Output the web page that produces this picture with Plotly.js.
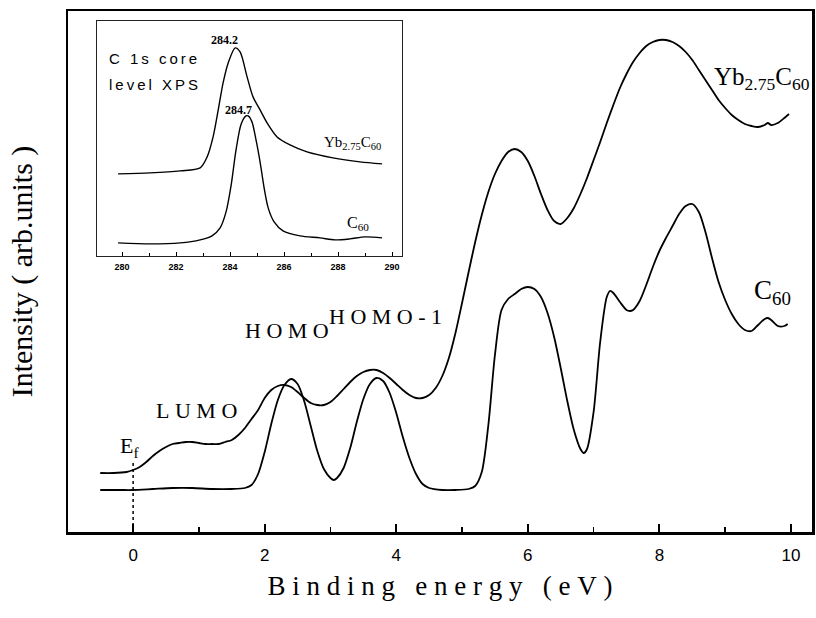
<!DOCTYPE html>
<html><head><meta charset="utf-8">
<script src="https://cdn.plot.ly/plotly-3.0.1.min.js"></script>
<style>html,body{margin:0;padding:0;background:#fff}#chart{width:816px;height:618px}</style>
</head><body><div id="chart"></div>
<script>
// ---- main panel: valence-band photoemission (binding energy, eV) ----
const energyYb = [-0.5,-0.3,-0.1,0,0.1,0.2,0.3,0.4,0.5,0.6,0.7,0.8,0.9,1.0,1.1,1.2,1.3,1.4,1.5,1.6,1.7,1.8,1.9,2.0,2.1,2.2,2.3,2.4,2.5,2.6,2.7,2.8,2.9,3.0,3.1,3.2,3.3,3.4,3.5,3.6,3.7,3.8,3.9,4.0,4.1,4.2,4.3,4.4,4.5,4.6,4.7,4.8,4.9,5.0,5.1,5.2,5.3,5.4,5.5,5.6,5.7,5.8,5.9,6.0,6.1,6.2,6.3,6.4,6.5,6.6,6.7,6.8,6.9,7.0,7.1,7.2,7.3,7.4,7.5,7.6,7.7,7.8,7.9,8.0,8.1,8.2,8.3,8.4,8.5,8.6,8.7,8.8,8.9,9.0,9.1,9.2,9.3,9.4,9.5,9.6,9.65,9.7,9.8,9.9,9.97];
const intensityYb = [59,59,60,62,65,70,76,81,85,88,89,90,90,89,88,88,88,90,92,97,104,113,122,134,142,146,147,145,140,134,129,127,127,130,136,143,150,156,160,162,162,159,154,148,142,137,134,134,137,144,156,174,199,229,260,290,317,340,358,371,380,383,380,371,356,338,322,311,308,314,324,338,354,372,390,409,427,444,458,470,479,486,490,492,492,490,486,480,472,462,452,442,432,424,417,412,408,406,405,407,409,407,409,414,418];

const energyC60 = [-0.5,-0.2,0,0.3,0.6,0.9,1.2,1.5,1.7,1.8,1.9,2.0,2.1,2.2,2.3,2.4,2.5,2.6,2.7,2.8,2.9,3.0,3.05,3.1,3.2,3.3,3.4,3.5,3.6,3.7,3.8,3.9,4.0,4.1,4.2,4.3,4.4,4.5,4.7,4.9,5.1,5.2,5.3,5.4,5.5,5.6,5.7,5.8,5.9,6.0,6.1,6.2,6.3,6.4,6.5,6.6,6.7,6.8,6.85,6.9,7.0,7.1,7.2,7.25,7.3,7.4,7.5,7.55,7.6,7.7,7.8,7.9,8.0,8.1,8.2,8.3,8.4,8.5,8.6,8.7,8.8,8.9,9.0,9.1,9.2,9.3,9.4,9.5,9.6,9.65,9.7,9.8,9.9,9.95];
const intensityC60 = [42,42,42,43,44,44,43,43,44,47,58,80,108,132,147,153,148,131,106,81,63,54,52,54,64,84,110,133,148,154,151,139,119,95,74,58,48,44,42,42,43,46,60,107,177,222,233,238,243,245,243,235,219,195,164,131,102,83,79,83,120,190,235,241,239,230,222,221,222,231,247,265,281,294,306,318,326,328,320,300,274,250,232,218,208,202,201,207,213,214,212,206,206,208];

const mainTicks = [0,2,4,6,8,10];
const mainMinorTicks = [-1,1,3,5,7,9];
const fermiLevel = 0;
const fermiLineTop = 70;

// ---- inset: C 1s core level XPS ----
const xpsEnergyYb = [279.85,281.04,282.15,282.89,283.15,283.37,283.56,283.74,283.93,284.19,284.37,284.63,284.85,285.11,285.37,285.74,286.22,286.85,287.81,288.81,289.63];
const xpsYb = [82,83,85,88,99,119,146,173,193,208,204,179,159,146,133,119,111,104,98,94,92];
const xpsEnergyC60 = [279.85,281.04,282.15,282.89,283.33,283.63,283.85,284.04,284.22,284.41,284.59,284.67,284.81,284.96,285.11,285.26,285.41,285.63,285.96,286.59,287.33,287.89,288.44,289.0,289.63];
const xpsC60 = [13,12,13,16,20,28,44,71,106,132,140,140,134,116,94,68,48,34,25,20,18,16,17,19,18];
const insetTicks = [280,282,284,286,288,290];
const insetMinorTicks = [281,283,285,287,289];
const peakYb = 284.2, peakC60 = 284.7;

const S = '\u2005', T = '\u2009';
const spaced = (s, sep) => s.split('').join(sep);

const lineStyle = {color: '#000', width: 1.8, shape: 'spline', smoothing: 0.8};
const insetLine = {color: '#000', width: 1.4, shape: 'spline', smoothing: 0.8};

const traces = [
  {x: energyYb, y: intensityYb, type: 'scatter', mode: 'lines', line: lineStyle, name: 'Yb2.75C60', hoverinfo: 'skip'},
  {x: energyC60, y: intensityC60, type: 'scatter', mode: 'lines', line: lineStyle, name: 'C60', hoverinfo: 'skip'},
  {x: xpsEnergyYb, y: xpsYb, xaxis: 'x2', yaxis: 'y2', type: 'scatter', mode: 'lines', line: insetLine, hoverinfo: 'skip'},
  {x: xpsEnergyC60, y: xpsC60, xaxis: 'x2', yaxis: 'y2', type: 'scatter', mode: 'lines', line: insetLine, hoverinfo: 'skip'}
];

const serif = 'Liberation Serif, Times New Roman, serif';
const sans = 'Liberation Sans, Arial, sans-serif';

const ann = (x, y, text, size, opts) => Object.assign({x, y, text, showarrow: false, font: {family: serif, size, color: '#000'}}, opts || {});

const annotations = [
  ann(0.97, 122, spaced('LUMO', S), 22),
  ann(2.34, 202, spaced('HOMO', S), 22),
  ann(3.83, 216, spaced('HOMO-1', S), 22),
  ann(-0.05, 85, 'E<sub>f</sub>', 22),
  ann(8.8, 454, 'Yb<sub>2.75</sub>C<sub>60</sub>', 25, {xanchor: 'left'}),
  ann(9.41, 240, 'C<sub>60</sub>', 27, {xanchor: 'left'}),
  // inset
  ann(peakYb - 0.4, 216, String(peakYb), 12, {xref: 'x2', yref: 'y2', font: {family: serif, size: 12, color: '#000', weight: 'bold'}}),
  ann(peakC60 - 0.4, 146, String(peakC60), 12, {xref: 'x2', yref: 'y2', font: {family: serif, size: 12, color: '#000', weight: 'bold'}}),
  ann(279.45, 197, 'C' + T + ' ' + T + '1' + T + 's' + T + ' ' + T + spaced('core', T), 15, {xref: 'x2', yref: 'y2', xanchor: 'left', font: {family: sans, size: 15, color: '#000'}}),
  ann(279.45, 171, spaced('level', T) + T + ' ' + T + spaced('XPS', T), 15, {xref: 'x2', yref: 'y2', xanchor: 'left', font: {family: sans, size: 15, color: '#000'}}),
  ann(287.42, 113, 'Yb<sub>2.75</sub>C<sub>60</sub>', 15, {xref: 'x2', yref: 'y2', xanchor: 'left'}),
  ann(288.25, 32, 'C<sub>60</sub>', 16, {xref: 'x2', yref: 'y2', xanchor: 'left'})
];

const xTitle = spaced('Binding', S) + S + ' ' + S + spaced('energy', S) + S + ' ' + S + spaced('(eV)', S);

const layout = {
  width: 816, height: 618,
  margin: {l: 68, r: 4, t: 11, b: 86},
  paper_bgcolor: '#fff', plot_bgcolor: '#fff',
  showlegend: false,
  xaxis: {
    range: [-0.99, 10.32], tickvals: mainTicks, ticks: 'inside', ticklen: 8, tickwidth: 2, tickcolor: '#000',
    minor: {tickvals: mainMinorTicks, ticks: 'inside', ticklen: 5, tickwidth: 1.5, tickcolor: '#000', showgrid: false},
    showline: true, mirror: true, linewidth: 2.5, linecolor: '#000', showgrid: false, zeroline: false,
    tickfont: {family: sans, size: 17, color: '#000'}, ticklabelstandoff: 6,
    title: {text: xTitle, font: {family: serif, size: 27, color: '#000'}, standoff: 12},
    automargin: false
  },
  yaxis: {
    range: [0, 521], showticklabels: false, ticks: '', showline: true, mirror: true, linewidth: 2.5, linecolor: '#000',
    showgrid: false, zeroline: false,
    title: {text: 'Intensity ( arb.units )', font: {family: serif, size: 30, color: '#000'}, standoff: 24},
    automargin: false
  },
  xaxis2: {
    domain: [0.039, 0.449], anchor: 'y2', range: [279.07, 290.37], tickvals: insetTicks,
    ticks: 'inside', ticklen: 4, tickwidth: 1, tickcolor: '#000',
    minor: {tickvals: insetMinorTicks, ticks: 'inside', ticklen: 3, tickwidth: 1, tickcolor: '#000', showgrid: false},
    showline: true, mirror: true, linewidth: 1, linecolor: '#222', showgrid: false, zeroline: false,
    tickfont: {family: sans, size: 9, color: '#000', weight: 'bold'}, ticklabelstandoff: 2
  },
  yaxis2: {
    domain: [0.53, 0.981], anchor: 'x2', range: [0, 235], showticklabels: false, ticks: '',
    showline: true, mirror: true, linewidth: 1, linecolor: '#222', showgrid: false, zeroline: false
  },
  shapes: [
    {type: 'line', xref: 'x', yref: 'y', x0: fermiLevel, x1: fermiLevel, y0: 0, y1: fermiLineTop, line: {color: '#000', width: 1.5, dash: 'dot'}}
  ],
  annotations
};

Plotly.newPlot('chart', traces, layout, {staticPlot: true, displayModeBar: false});
</script></body></html>
